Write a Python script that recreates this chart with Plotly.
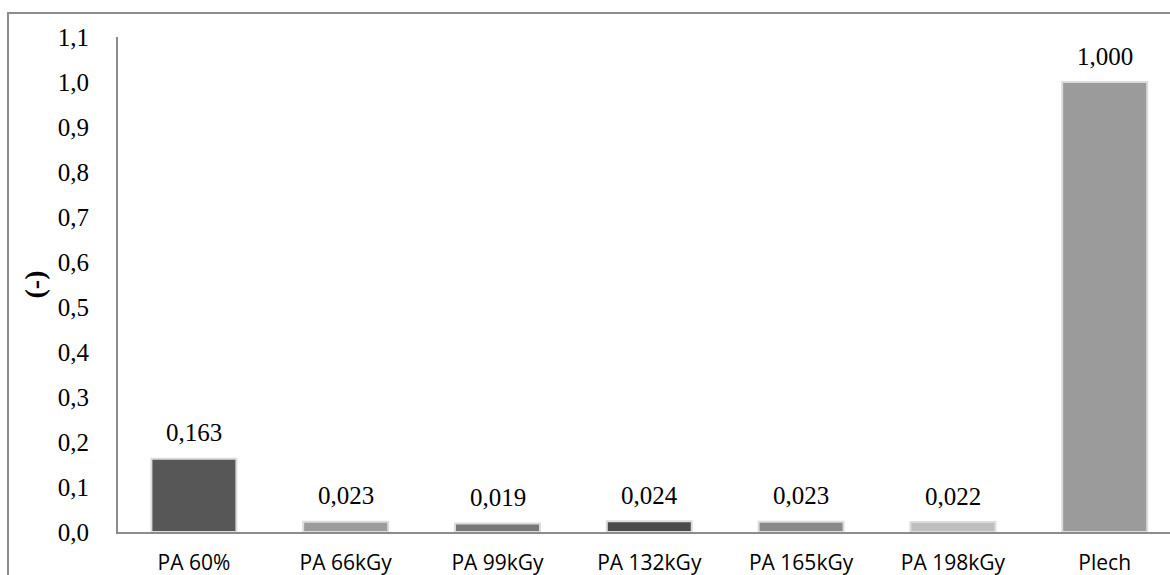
import plotly.graph_objects as go

categories = ["PA 60%", "PA 66kGy", "PA 99kGy", "PA 132kGy", "PA 165kGy", "PA 198kGy", "Plech"]
values = [0.163, 0.023, 0.019, 0.024, 0.023, 0.022, 1.000]
bar_colors = ["#575757", "#9c9c9c", "#777777", "#4b4b4b", "#8a8a8a", "#bfbfbf", "#9b9b9b"]
y_ticks = [round(0.1 * i, 1) for i in range(12)]

W, H = 1170, 575
left, right, top, bottom = 118, 0, 37, 43
plot_w = W - left - right
plot_h = H - top - bottom
cat_step = 151.8  # pixel spacing between categories

fig = go.Figure()
fig.add_trace(go.Bar(
    x=categories,
    y=values,
    marker=dict(color=bar_colors, line=dict(color="#dcdcdc", width=2)),
    width=0.56,
    hoverinfo="skip",
))

for c, v in zip(categories, values):
    fig.add_annotation(
        x=c, y=v, text=f"{v:.3f}".replace(".", ","),
        showarrow=False, yanchor="middle", yshift=26,
        font=dict(family="Liberation Serif", size=25, color="#000000"),
    )

# outer chart frame
fig.add_shape(
    type="rect", xref="paper", yref="paper",
    x0=(8 - left) / plot_w, x1=1.2,
    y0=-0.3, y1=(H - bottom - 13) / plot_h,
    line=dict(color="#8c8c8c", width=2), layer="below",
)

fig.update_layout(
    width=W, height=H,
    margin=dict(l=left, r=right, t=top, b=bottom, pad=0, autoexpand=False),
    paper_bgcolor="white", plot_bgcolor="white",
    separators=",.",
    showlegend=False,
    xaxis=dict(
        range=[-0.5, -0.5 + plot_w / cat_step], automargin=False,
        showline=True, linecolor="#8c8c8c", linewidth=2,
        ticks="", showgrid=False, zeroline=False,
        tickfont=dict(family="Open Sans", size=21, color="#000000"),
        ticklabelstandoff=11,
    ),
    yaxis=dict(
        range=[0, 1.1], tickvals=y_ticks, tickformat=".1f", automargin=False,
        showline=True, linecolor="#8c8c8c", linewidth=2,
        ticks="", showgrid=False, zeroline=False,
        tickfont=dict(family="Liberation Serif", size=25, color="#000000"),
        ticklabelstandoff=22,
        title=dict(text="<b>(-)</b>", standoff=5,
                   font=dict(family="Liberation Serif", size=28, color="#000000")),
    ),
)

fig.write_html("out.html")
